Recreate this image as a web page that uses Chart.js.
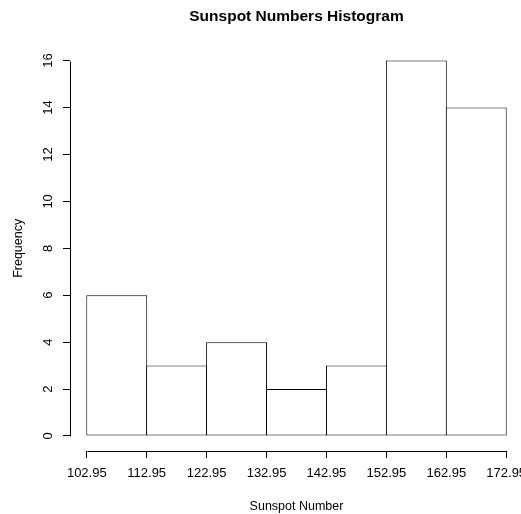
<!DOCTYPE html>
<html lang="en">
<head>
    <meta charset="UTF-8">
    <title>Sunspot Numbers Histogram</title>
    <script src="https://cdn.jsdelivr.net/npm/chart.js"></script>
    <style>
        html, body { margin: 0; padding: 0; background: #fff; overflow: hidden; }
        canvas { display: block; }
    </style>
</head>
<body>
    <canvas id="histChart" width="560" height="514"></canvas>
    <script>
        // histogram bins (break points) and counts
        const binEdges = [102.95, 112.95, 122.95, 132.95, 142.95, 152.95, 162.95, 172.95];
        const frequencies = [6, 3, 4, 2, 3, 16, 14];
        const xTicks = [102.95, 112.95, 122.95, 132.95, 142.95, 152.95, 162.95, 172.95];
        const yTicks = [0, 2, 4, 6, 8, 10, 12, 14, 16];

        const fontFamily = '"Liberation Sans", Arial, Helvetica, sans-serif';

        // R style: plot region is 4% wider than the data range
        const xSpan = binEdges[binEdges.length - 1] - binEdges[0];
        const xMin = binEdges[0] - xSpan * 0.04;
        const xMax = binEdges[binEdges.length - 1] + xSpan * 0.04;
        const ySpan = yTicks[yTicks.length - 1] - yTicks[0];
        const yMin = yTicks[0] - ySpan * 0.04;
        const yMax = yTicks[yTicks.length - 1] + ySpan * 0.04;

        const barData = frequencies.map((f, i) => ({
            x: (binEdges[i] + binEdges[i + 1]) / 2,
            y: f
        }));

        // axis lines that only run from first to last tick, like R's axis()
        const rAxes = {
            id: 'rAxes',
            afterDraw(chart) {
                const { ctx, chartArea, scales: { x, y } } = chart;
                ctx.save();
                ctx.strokeStyle = '#000';
                ctx.lineWidth = 1;
                ctx.beginPath();
                const yb = Math.round(chartArea.bottom) + 0.5;
                ctx.moveTo(Math.round(x.getPixelForValue(xTicks[0])) + 0.5, yb);
                ctx.lineTo(Math.round(x.getPixelForValue(xTicks[xTicks.length - 1])) + 0.5, yb);
                const xl = Math.round(chartArea.left) + 0.5;
                ctx.moveTo(xl, Math.round(y.getPixelForValue(yTicks[0])) + 0.5);
                ctx.lineTo(xl, Math.round(y.getPixelForValue(yTicks[yTicks.length - 1])) + 0.5);
                ctx.stroke();
                ctx.restore();
            }
        };

        // make each bar 1px wider than its bin so neighbouring borders overlap
        function barPct(ctx) {
            const x = ctx.chart.scales && ctx.chart.scales.x;
            if (!x || !x.width) return 1;
            const w = Math.abs(x.getPixelForValue(binEdges[1]) - x.getPixelForValue(binEdges[0]));
            return w > 0 ? (w + 1) / w : 1;
        }

        new Chart(document.getElementById('histChart'), {
            type: 'bar',
            data: {
                datasets: [{
                    data: barData,
                    backgroundColor: '#fff',
                    borderColor: '#000',
                    borderSkipped: false,
                    borderWidth: 1,
                    barPercentage: barPct,
                    categoryPercentage: 1
                }]
            },
            options: {
                responsive: false,
                animation: false,
                layout: { padding: { left: 0, right: 37, top: 0, bottom: 0 } },
                plugins: {
                    legend: { display: false },
                    tooltip: { enabled: false },
                    title: {
                        display: true,
                        text: 'Sunspot Numbers Histogram',
                        fullSize: false,
                        color: '#000',
                        font: { family: fontFamily, size: 15.5, weight: 'bold' },
                        padding: { top: 7, bottom: 20 }
                    }
                },
                scales: {
                    x: {
                        type: 'linear',
                        min: xMin,
                        max: xMax,
                        bounds: 'data',
                        offset: false,
                        afterBuildTicks: s => { s.ticks = xTicks.map(v => ({ value: v })); },
                        afterFit: s => { s.height = 63; },
                        grid: {
                            offset: false,
                            drawOnChartArea: false,
                            tickLength: 7,
                            color: '#000'
                        },
                        border: { display: false },
                        ticks: {
                            autoSkip: false,
                            maxRotation: 0,
                            padding: 8,
                            color: '#000',
                            font: { family: fontFamily, size: 13 },
                            callback: v => v.toFixed(2)
                        },
                        title: {
                            display: true,
                            text: 'Sunspot Number',
                            color: '#000',
                            font: { family: fontFamily, size: 12.5 },
                            padding: { top: 0, bottom: 0 }
                        }
                    },
                    y: {
                        min: yMin,
                        max: yMax,
                        bounds: 'data',
                        afterBuildTicks: s => { s.ticks = yTicks.map(v => ({ value: v })); },
                        afterFit: s => { s.width = 70; },
                        grid: {
                            drawOnChartArea: false,
                            tickLength: 7,
                            color: '#000'
                        },
                        border: { display: false },
                        ticks: {
                            minRotation: 90,
                            maxRotation: 90,
                            crossAlign: 'center',
                            padding: 7,
                            color: '#000',
                            font: { family: fontFamily, size: 13 }
                        },
                        title: {
                            display: true,
                            text: 'Frequency',
                            color: '#000',
                            font: { family: fontFamily, size: 12.5 },
                            padding: { top: 11, bottom: 0 }
                        }
                    }
                }
            },
            plugins: [rAxes]
        });
    </script>
</body>
</html>
